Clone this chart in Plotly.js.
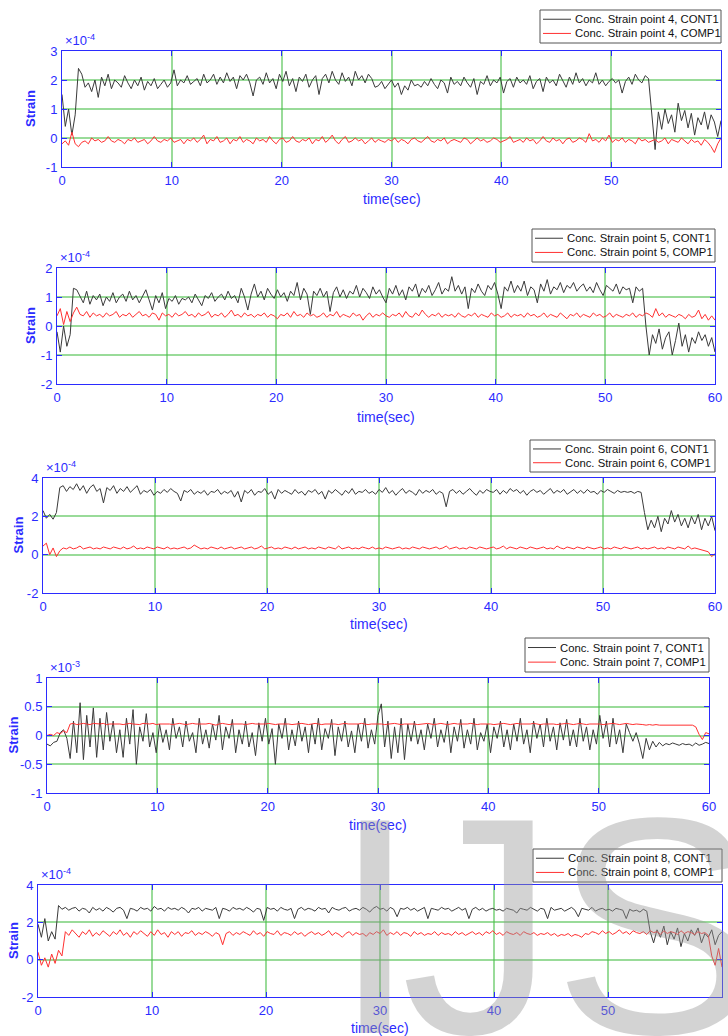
<!DOCTYPE html>
<html>
<head>
<meta charset="utf-8">
<script src="https://cdn.plot.ly/plotly-3.0.1.min.js"></script>
<style>
html,body{margin:0;padding:0;background:#fff;}
#chart{width:728px;height:1036px;}
</style>
</head>
<body>
<div id="chart"></div>
<script>
// ---------------- DATA (strain values; sampled every 0.3 s from 0 to 60 s) ----------------
const DT = 0.3;

// point 4 (x1e-4)
const cont4 = [
 1.5, 0.4, 1.0, 0.1, 0.8, 2.4, 2.2, 1.75, 1.9, 1.6, 2.0, 1.4, 2.1, 1.8, 2.2, 1.7, 2.0, 1.9, 1.75, 2.15,
 1.9, 1.7, 2.0, 1.8, 2.1, 1.65, 1.95, 1.8, 2.05, 1.7, 1.85, 2.0, 1.75, 1.9, 2.35, 1.8, 2.0, 1.9, 2.15, 1.85,
 1.95, 2.05, 1.8, 2.2, 1.9, 2.0, 2.2, 1.85, 2.1, 1.9, 2.25, 1.95, 2.1, 1.7, 2.15, 2.0, 2.2, 1.9, 1.45, 2.0,
 2.1, 1.85, 2.25, 1.9, 2.05, 1.7, 2.2, 1.95, 2.3, 1.8, 2.05, 1.6, 2.1, 1.95, 2.2, 1.75, 2.0, 2.15, 1.5, 2.05,
 2.2, 1.9, 2.3, 2.0, 1.85, 2.25, 1.95, 2.1, 1.8, 2.3, 2.0, 2.15, 1.9, 2.2, 2.05, 1.75, 1.8, 1.95, 1.7, 1.85,
 2.0, 1.75, 1.9, 1.5, 1.8, 1.65, 2.0, 1.8, 1.85, 1.75, 1.95, 1.8, 2.05, 1.85, 1.7, 2.0, 1.9, 1.55, 2.1, 1.85,
 1.95, 1.8, 2.1, 1.9, 1.75, 2.05, 1.5, 1.95, 1.85, 2.15, 1.8, 2.0, 1.9, 2.1, 1.55, 1.95, 2.05, 1.75, 2.1, 1.9,
 2.0, 1.85, 2.15, 1.7, 1.95, 2.05, 1.6, 2.1, 1.9, 2.0, 1.8, 2.2, 1.95, 1.75, 2.1, 1.85, 2.25, 1.9, 2.05, 1.8,
 2.0, 1.9, 2.25, 1.85, 2.0, 1.8, 1.95, 2.05, 1.9, 2.0, 1.55, 1.95, 2.1, 1.85, 2.2, 2.0, 1.9, 2.15, 2.05, 0.7,
 -0.4, 0.9, 0.3, 1.0, 0.5, 0.8, 0.2, 1.2, 0.6, 0.95, 0.35, 0.85, 0.1, 0.7, 0.45, 0.9, 0.3, 0.8, 0.55, 0.05,
 0.6
];
const comp4 = [
 -0.2, -0.1, -0.25, 0.2, -0.2, -0.3, -0.15, -0.1, -0.2, 0.0, -0.1, -0.05, -0.15, -0.1, 0.05, -0.1, -0.15, -0.05, -0.1, -0.2,
 -0.05, -0.1, 0.0, -0.15, -0.1, -0.05, -0.2, -0.1, 0.05, -0.1, -0.15, -0.05, -0.1, 0.0, -0.15, -0.1, -0.05, -0.2, -0.05, -0.1,
 0.0, -0.15, -0.05, 0.1, -0.2, -0.05, -0.1, 0.05, -0.15, -0.1, 0.0, -0.2, -0.05, -0.1, 0.05, -0.15, -0.05, -0.1, -0.2, 0.0,
 -0.1, -0.05, -0.15, 0.05, -0.1, -0.2, -0.05, 0.0, -0.15, -0.1, 0.05, -0.1, -0.15, -0.05, -0.1, 0.0, -0.2, -0.05, -0.1, 0.05,
 -0.15, -0.05, 0.1, -0.1, -0.2, -0.05, 0.05, -0.15, -0.1, 0.0, -0.1, -0.05, -0.2, -0.1, 0.0, -0.15, -0.05, -0.1, -0.15, -0.05,
 -0.1, 0.0, -0.15, -0.05, -0.1, -0.2, -0.05, 0.0, -0.1, -0.15, -0.05, 0.05, -0.1, -0.15, -0.05, -0.1, 0.0, -0.2, -0.1, -0.05,
 -0.1, -0.15, 0.0, -0.05, -0.2, -0.1, 0.0, -0.1, -0.05, -0.15, -0.1, 0.0, -0.05, -0.15, -0.1, -0.05, 0.05, -0.15, -0.1, -0.05,
 -0.15, 0.0, -0.1, -0.05, -0.2, -0.1, 0.05, -0.1, -0.15, 0.0, -0.1, -0.05, -0.2, -0.05, 0.0, -0.15, -0.1, 0.0, -0.05, -0.15,
 0.15, -0.1, -0.05, -0.15, 0.0, -0.1, 0.1, -0.15, -0.05, -0.1, 0.0, -0.15, -0.05, -0.1, -0.2, 0.0, -0.1, -0.05, -0.15, -0.1,
 -0.05, -0.15, -0.1, 0.0, -0.2, -0.05, -0.1, -0.15, 0.0, -0.1, -0.2, -0.05, -0.15, -0.1, -0.25, -0.05, -0.15, -0.3, -0.5, -0.2,
 0.0
];

// point 5 (x1e-4)
const cont5 = [
 -0.2, -0.9, 0.0, -0.7, -0.3, 1.3, 1.25, 1.0, 0.8, 1.2, 0.75, 1.05, 0.9, 1.1, 0.7, 1.0, 0.85, 1.15, 0.8, 1.0,
 1.1, 0.85, 1.2, 0.9, 1.05, 0.8, 1.0, 1.25, 0.9, 0.55, 1.05, 0.8, 1.15, 0.6, 0.95, 0.85, 1.05, 0.75, 0.95, 0.9,
 1.0, 0.8, 1.1, 0.9, 0.7, 1.05, 0.95, 1.15, 0.85, 1.0, 1.1, 0.9, 1.2, 0.95, 1.05, 0.8, 1.3, 1.0, 0.55, 1.1,
 1.45, 1.0, 1.2, 0.9, 1.3, 1.1, 0.95, 1.25, 1.0, 1.15, 0.85, 1.2, 1.05, 1.5, 0.9, 1.3, 1.1, 0.4, 1.2, 1.05,
 1.3, 1.0, 1.2, 0.5, 1.15, 1.35, 1.0, 1.25, 0.95, 1.2, 1.1, 1.4, 1.0, 1.3, 1.15, 0.95, 1.35, 1.1, 1.25, 1.0,
 0.8, 1.3, 1.1, 1.4, 1.05, 1.25, 0.9, 1.35, 1.2, 1.45, 1.0, 1.3, 1.15, 1.4, 1.05, 1.25, 1.5, 1.1, 1.3, 1.2,
 1.7, 1.2, 1.4, 1.1, 1.35, 0.6, 1.3, 1.15, 1.45, 1.2, 1.05, 1.4, 1.25, 1.5, 1.1, 0.6, 1.35, 1.2, 1.55, 1.15,
 1.4, 1.2, 1.55, 1.05, 1.35, 1.25, 0.8, 1.45, 1.2, 1.6, 1.1, 1.35, 1.25, 1.5, 1.15, 1.4, 1.3, 1.5, 1.2, 1.35,
 1.45, 1.2, 1.35, 1.15, 1.5, 1.25, 1.05, 1.4, 1.3, 1.2, 1.45, 1.1, 1.35, 1.25, 1.3, 0.8, 1.35, 1.2, 1.3, 0.0,
 -1.0, -0.3, -0.6, -0.1, -0.8, -0.4, -0.2, -1.0, -0.5, 0.1, -0.7, -0.3, -0.9, -0.4, -0.6, -0.2, -0.5, -0.3, -0.7, -0.4,
 -0.9
];
const comp5 = [
 0.35, 0.6, 0.05, 0.5, 0.15, 0.45, 0.65, 0.4, 0.35, 0.5, 0.3, 0.45, 0.35, 0.4, 0.3, 0.45, 0.35, 0.4, 0.5, 0.3,
 0.4, 0.35, 0.45, 0.3, 0.4, 0.5, 0.35, 0.4, 0.3, 0.45, 0.4, 0.2, 0.45, 0.35, 0.4, 0.3, 0.45, 0.35, 0.4, 0.5,
 0.35, 0.4, 0.3, 0.45, 0.35, 0.4, 0.5, 0.3, 0.4, 0.35, 0.45, 0.3, 0.4, 0.55, 0.35, 0.4, 0.3, 0.45, 0.35, 0.4,
 0.3, 0.4, 0.35, 0.45, 0.3, 0.4, 0.35, 0.25, 0.4, 0.35, 0.45, 0.3, 0.5, 0.35, 0.4, 0.3, 0.45, 0.35, 0.4, 0.3,
 0.35, 0.45, 0.3, 0.4, 0.35, 0.5, 0.3, 0.4, 0.35, 0.3, 0.45, 0.35, 0.4, 0.2, 0.35, 0.45, 0.3, 0.4, 0.35, 0.45,
 0.35, 0.3, 0.4, 0.35, 0.45, 0.3, 0.5, 0.35, 0.3, 0.45, 0.35, 0.55, 0.4, 0.3, 0.4, 0.35, 0.45, 0.3, 0.4, 0.35,
 0.4, 0.3, 0.45, 0.35, 0.3, 0.4, 0.35, 0.45, 0.3, 0.4, 0.35, 0.3, 0.45, 0.35, 0.4, 0.3, 0.35, 0.45, 0.3, 0.4,
 0.35, 0.4, 0.3, 0.45, 0.35, 0.4, 0.3, 0.35, 0.45, 0.3, 0.4, 0.35, 0.3, 0.45, 0.35, 0.25, 0.4, 0.35, 0.45, 0.3,
 0.4, 0.35, 0.3, 0.45, 0.35, 0.4, 0.3, 0.35, 0.45, 0.3, 0.4, 0.35, 0.3, 0.4, 0.35, 0.45, 0.3, 0.4, 0.35, 0.45,
 0.4, 0.3, 0.6, 0.35, 0.45, 0.3, 0.4, 0.35, 0.3, 0.4, 0.35, 0.25, 0.4, 0.3, 0.35, 0.55, 0.25, 0.4, 0.2, 0.35,
 0.2
];

// point 6 (x1e-4)
const cont6 = [
 2.3, 1.9, 2.1, 1.85, 2.2, 3.5, 3.6, 3.3, 3.55, 3.4, 3.7, 3.35, 3.6, 3.2, 3.5, 3.65, 3.3, 3.45, 2.7, 3.5,
 3.35, 3.6, 3.2, 3.45, 3.3, 3.55, 3.25, 3.4, 3.6, 3.15, 3.35, 3.25, 3.4, 3.1, 3.3, 3.2, 3.4, 3.25, 3.45, 3.3,
 3.2, 2.8, 3.35, 3.25, 3.4, 3.15, 3.3, 3.2, 3.35, 3.1, 3.3, 3.25, 3.4, 3.15, 3.3, 3.2, 3.35, 3.0, 3.3, 2.75,
 3.35, 3.2, 3.4, 3.1, 3.3, 3.25, 3.45, 3.15, 3.3, 2.9, 3.4, 3.2, 3.35, 3.25, 3.15, 3.4, 3.2, 3.3, 3.1, 3.35,
 3.25, 3.4, 3.15, 3.3, 2.9, 3.35, 3.2, 3.4, 3.25, 3.1, 3.35, 3.2, 3.45, 3.15, 3.3, 3.25, 3.4, 3.2, 3.3, 3.15,
 3.4, 3.25, 3.5, 3.2, 3.35, 3.1, 3.3, 3.45, 3.2, 3.35, 3.25, 3.1, 3.4, 3.2, 3.35, 3.25, 3.4, 3.15, 3.3, 3.2,
 2.5, 3.3, 3.4, 3.2, 3.35, 3.15, 3.3, 3.45, 3.25, 3.1, 3.35, 3.2, 3.4, 3.3, 3.25, 3.4, 3.15, 3.35, 3.2, 3.45,
 3.3, 3.4, 3.2, 3.35, 3.1, 3.3, 3.4, 3.25, 3.35, 3.15, 3.3, 3.45, 3.2, 3.35, 3.25, 3.4, 3.15, 3.3, 3.4, 3.2,
 3.35, 3.2, 3.4, 3.25, 3.3, 3.15, 3.35, 3.25, 3.4, 3.3, 3.2, 3.35, 3.25, 3.3, 3.25, 3.3, 3.2, 3.3, 3.25, 2.2,
 1.3, 1.8, 1.4, 2.0, 1.2, 1.9, 1.6, 2.3, 1.7, 2.1, 1.5, 1.9, 1.4, 2.0, 1.6, 2.1, 1.3, 1.9, 1.5, 2.0,
 1.25
];
const comp6 = [
 0.45, 0.6, 0.0, 0.35, -0.1, 0.2, 0.35, 0.3, 0.4, 0.3, 0.35, 0.45, 0.3, 0.35, 0.4, 0.3, 0.35, 0.3, 0.4, 0.35,
 0.3, 0.4, 0.35, 0.3, 0.4, 0.3, 0.35, 0.45, 0.3, 0.35, 0.3, 0.4, 0.35, 0.3, 0.4, 0.35, 0.3, 0.4, 0.3, 0.35,
 0.3, 0.35, 0.4, 0.3, 0.35, 0.5, 0.4, 0.3, 0.35, 0.3, 0.4, 0.35, 0.3, 0.4, 0.3, 0.35, 0.4, 0.3, 0.35, 0.4,
 0.3, 0.35, 0.4, 0.3, 0.35, 0.45, 0.3, 0.35, 0.4, 0.3, 0.35, 0.3, 0.4, 0.35, 0.3, 0.4, 0.3, 0.35, 0.4, 0.3,
 0.35, 0.3, 0.4, 0.35, 0.3, 0.4, 0.35, 0.3, 0.45, 0.3, 0.35, 0.4, 0.3, 0.35, 0.3, 0.4, 0.35, 0.3, 0.4, 0.3,
 0.35, 0.3, 0.4, 0.35, 0.3, 0.35, 0.4, 0.3, 0.35, 0.3, 0.4, 0.35, 0.3, 0.4, 0.35, 0.3, 0.35, 0.4, 0.3, 0.35,
 0.45, 0.3, 0.35, 0.4, 0.3, 0.35, 0.3, 0.4, 0.35, 0.3, 0.4, 0.35, 0.3, 0.35, 0.4, 0.3, 0.35, 0.45, 0.3, 0.4,
 0.35, 0.3, 0.4, 0.35, 0.3, 0.4, 0.35, 0.3, 0.35, 0.4, 0.3, 0.35, 0.3, 0.45, 0.35, 0.3, 0.4, 0.35, 0.3, 0.4,
 0.35, 0.3, 0.4, 0.35, 0.3, 0.35, 0.4, 0.3, 0.35, 0.3, 0.4, 0.35, 0.3, 0.4, 0.35, 0.3, 0.35, 0.4, 0.3, 0.35,
 0.3, 0.35, 0.4, 0.3, 0.35, 0.3, 0.4, 0.35, 0.3, 0.4, 0.35, 0.3, 0.45, 0.3, 0.35, 0.3, 0.25, 0.2, 0.15, -0.1,
 0.05
];

// point 7 (x1e-3)
const cont7 = [
 -0.15, -0.18, -0.12, -0.1, 0.05, 0.1, -0.05, -0.4, 0.25, -0.3, 0.57, -0.42, 0.35, -0.2, 0.48, -0.38, 0.3, -0.25, 0.4, -0.1,
 0.25, -0.3, 0.1, -0.38, 0.3, -0.15, 0.45, -0.5, 0.15, -0.1, 0.38, -0.2, 0.05, -0.3, 0.2, -0.12, 0.1, -0.25, 0.3, -0.05,
 0.15, -0.2, 0.25, -0.1, 0.05, -0.3, 0.3, -0.15, 0.1, -0.22, 0.2, -0.08, 0.35, -0.25, 0.15, -0.05, 0.28, -0.3, 0.1, -0.15,
 0.25, -0.2, 0.05, -0.35, 0.22, -0.1, 0.3, -0.15, 0.12, -0.5, 0.2, -0.05, 0.3, -0.25, 0.1, -0.18, 0.25, -0.1, 0.15, -0.3,
 0.2, -0.15, 0.3, -0.25, 0.12, -0.05, 0.28, -0.35, 0.15, -0.1, 0.25, -0.2, 0.08, -0.3, 0.2, -0.1, 0.3, -0.22, 0.1, -0.15,
 0.35, 0.55, -0.2, 0.25, -0.4, 0.15, -0.3, 0.3, -0.42, 0.2, -0.1, 0.25, -0.15, 0.1, -0.25, 0.2, -0.05, 0.3, -0.2, 0.1,
 -0.12, 0.25, -0.3, 0.15, -0.1, 0.28, -0.22, 0.1, -0.15, 0.3, -0.25, 0.05, -0.1, 0.2, -0.3, 0.15, -0.05, 0.25, -0.2, 0.1,
 -0.25, 0.2, -0.1, 0.3, -0.15, 0.1, -0.3, 0.25, -0.05, 0.2, -0.2, 0.3, -0.1, 0.15, -0.25, 0.22, -0.08, 0.28, -0.18, 0.1,
 -0.2, 0.3, -0.1, 0.15, -0.25, 0.1, -0.15, 0.35, -0.05, 0.25, -0.2, 0.3, -0.15, 0.1, -0.3, 0.2, 0.05, -0.1, 0.05, -0.15,
 -0.4, -0.05, -0.25, -0.1, -0.2, -0.12, -0.18, -0.14, -0.16, -0.13, -0.15, -0.17, -0.14, -0.16, -0.15, -0.18, -0.13, -0.17, -0.15, -0.12,
 -0.14
];
const comp7 = [
 0.0, 0.02, 0.0, 0.05, 0.03, 0.08, 0.05, 0.2, 0.21, 0.19, 0.2, 0.21, 0.2, 0.19, 0.21, 0.2, 0.2, 0.21, 0.19, 0.2,
 0.2, 0.21, 0.2, 0.19, 0.2, 0.21, 0.2, 0.2, 0.19, 0.21, 0.2, 0.2, 0.21, 0.19, 0.2, 0.2, 0.21, 0.2, 0.19, 0.2,
 0.21, 0.2, 0.19, 0.2, 0.21, 0.2, 0.2, 0.19, 0.2, 0.21, 0.2, 0.18, 0.2, 0.21, 0.2, 0.19, 0.2, 0.2, 0.21, 0.2,
 0.19, 0.2, 0.21, 0.2, 0.2, 0.19, 0.2, 0.21, 0.2, 0.19, 0.2, 0.2, 0.21, 0.2, 0.19, 0.2, 0.2, 0.21, 0.2, 0.19,
 0.2, 0.21, 0.2, 0.19, 0.2, 0.2, 0.21, 0.2, 0.19, 0.2, 0.21, 0.2, 0.2, 0.19, 0.2, 0.21, 0.2, 0.19, 0.2, 0.2,
 0.21, 0.2, 0.19, 0.2, 0.2, 0.21, 0.2, 0.19, 0.2, 0.2, 0.21, 0.2, 0.19, 0.2, 0.2, 0.21, 0.2, 0.19, 0.2, 0.21,
 0.2, 0.19, 0.2, 0.21, 0.2, 0.2, 0.19, 0.2, 0.21, 0.2, 0.19, 0.2, 0.2, 0.21, 0.2, 0.19, 0.2, 0.2, 0.21, 0.2,
 0.19, 0.2, 0.21, 0.2, 0.2, 0.19, 0.2, 0.21, 0.2, 0.19, 0.2, 0.2, 0.21, 0.2, 0.19, 0.2, 0.2, 0.21, 0.2, 0.19,
 0.2, 0.21, 0.2, 0.19, 0.2, 0.2, 0.21, 0.2, 0.19, 0.2, 0.2, 0.21, 0.2, 0.19, 0.2, 0.21, 0.2, 0.19, 0.2, 0.2,
 0.19, 0.18, 0.19, 0.18, 0.19, 0.18, 0.18, 0.19, 0.18, 0.19, 0.19, 0.18, 0.19, 0.18, 0.19, 0.18, 0.15, 0.02, -0.07, 0.05,
 0.03
];

// point 8 (x1e-4)
const cont8 = [
 1.9, 1.2, 2.2, 1.0, 1.5, 1.1, 2.9, 2.7, 2.8, 2.65, 2.75, 2.8, 2.6, 2.75, 2.7, 2.5, 2.8, 2.65, 2.75, 2.6,
 2.8, 2.7, 2.55, 2.75, 2.8, 2.65, 2.2, 2.75, 2.7, 2.6, 2.8, 2.7, 2.75, 2.6, 2.85, 2.7, 2.75, 2.6, 2.8, 2.7,
 2.75, 2.65, 2.8, 2.7, 2.5, 2.75, 2.7, 2.8, 2.6, 2.75, 2.7, 2.65, 2.8, 2.2, 2.75, 2.7, 2.6, 2.8, 2.7, 2.75,
 2.65, 2.8, 2.7, 2.55, 2.75, 2.7, 2.1, 2.8, 2.7, 2.75, 2.6, 2.8, 2.7, 2.65, 2.75, 2.2, 2.7, 2.8, 2.65, 2.75,
 2.7, 2.6, 2.8, 2.7, 2.75, 2.5, 2.8, 2.7, 2.65, 2.75, 2.8, 2.6, 2.7, 2.75, 2.65, 2.8, 2.7, 2.55, 2.75, 2.85,
 2.7, 2.75, 2.6, 2.8, 2.7, 2.3, 2.75, 2.7, 2.8, 2.65, 2.75, 2.6, 2.7, 2.8, 2.2, 2.75, 2.7, 2.65, 2.8, 2.7,
 2.75, 2.6, 2.7, 2.8, 2.65, 2.75, 2.2, 2.7, 2.8, 2.65, 2.75, 2.6, 2.7, 2.75, 2.65, 2.7, 2.6, 2.75, 2.7, 2.65,
 2.5, 2.75, 2.7, 2.65, 2.8, 2.7, 2.6, 2.75, 2.7, 2.2, 2.8, 2.65, 2.7, 2.75, 2.6, 2.7, 2.8, 2.65, 2.3, 2.75,
 2.7, 2.65, 2.8, 2.6, 2.7, 2.75, 2.65, 2.7, 2.6, 2.75, 2.7, 2.65, 2.2, 2.7, 2.6, 2.65, 2.55, 2.7, 2.6, 1.5,
 0.9, 1.6, 1.2, 1.8, 0.8, 1.5, 1.1, 1.7, 0.7, 1.4, 1.0, 1.6, 1.3, 1.7, 0.9, 1.4, 1.2, 1.6, 0.8, 1.3,
 1.5
];
const comp8 = [
 0.4, -0.3, 0.1, -0.4, 0.3, -0.2, 0.5, 0.2, 1.5, 1.3, 1.6, 1.4, 1.2, 1.5, 1.35, 1.6, 1.25, 1.45, 1.3, 1.55,
 1.4, 1.25, 1.5, 1.35, 1.6, 1.3, 1.45, 1.2, 1.5, 1.35, 1.55, 1.4, 1.25, 1.5, 1.3, 1.6, 1.35, 1.45, 1.2, 1.5,
 1.35, 1.5, 1.25, 1.45, 1.4, 1.55, 1.3, 1.45, 1.35, 1.5, 1.4, 1.25, 1.45, 1.35, 0.8, 1.4, 1.5, 1.3, 1.45, 1.35,
 1.5, 1.4, 1.3, 1.55, 1.35, 1.45, 1.25, 1.5, 1.4, 1.35, 1.55, 1.3, 1.45, 1.4, 1.3, 1.5, 1.35, 1.45, 1.25, 1.4,
 1.5, 1.35, 1.45, 1.3, 1.4, 1.55, 1.3, 1.45, 1.35, 1.2, 1.4, 1.5, 1.3, 1.45, 1.35, 1.4, 1.25, 1.45, 1.35, 1.5,
 1.4, 1.6, 1.3, 1.45, 1.35, 1.5, 1.3, 1.45, 1.4, 1.25, 1.5, 1.35, 1.45, 1.3, 1.4, 1.35, 1.5, 1.3, 1.45, 1.35,
 1.4, 1.3, 1.5, 1.35, 1.45, 1.3, 1.4, 1.5, 1.35, 1.45, 1.3, 1.5, 1.4, 1.55, 1.35, 1.45, 1.3, 1.5, 1.4, 1.35,
 1.45, 1.3, 1.5, 1.4, 1.35, 1.45, 1.3, 1.4, 1.35, 1.45, 1.3, 1.4, 1.25, 1.35, 1.3, 1.4, 1.25, 1.35, 1.3, 1.2,
 1.4, 1.35, 1.5, 1.45, 1.35, 1.55, 1.4, 1.5, 1.35, 1.45, 1.6, 1.4, 1.5, 1.35, 1.55, 1.45, 1.4, 1.5, 1.35, 1.55,
 1.45, 1.5, 1.35, 1.55, 1.4, 1.5, 1.45, 1.35, 1.55, 1.4, 1.5, 1.45, 1.35, 1.5, 1.4, 1.45, 1.3, 0.2, -0.3, 0.6,
 -0.4
];

const contNames = ['Conc. Strain point 4, CONT1','Conc. Strain point 5, CONT1','Conc. Strain point 6, CONT1','Conc. Strain point 7, CONT1','Conc. Strain point 8, CONT1'];
const compNames = ['Conc. Strain point 4, COMP1','Conc. Strain point 5, COMP1','Conc. Strain point 6, COMP1','Conc. Strain point 7, COMP1','Conc. Strain point 8, COMP1'];
const exponents = ['-4','-4','-4','-3','-4'];
const xTickVals = [0,10,20,30,40,50,60];
const xTickText = ['0','10','20','30','40','50','60'];
const yTickVals = [[-1,0,1,2,3],[-2,-1,0,1,2],[-2,0,2,4],[-1,-0.5,0,0.5,1],[-2,0,2,4]];
const yTickText = [['-1','0','1','2','3'],['-2','-1','0','1','2'],['-2','0','2','4'],['-1','-0.5','0','0.5','1'],['-2','0','2','4']];
const yRanges = [[-1,3],[-2,2],[-2,4],[-1,1],[-2,4]];
const xLabel = 'time(sec)';
const yLabel = 'Strain';
const watermark = ['I','J','S'];

// ---------------- LAYOUT (pixel geometry) ----------------
const W = 728, H = 1036;
const PX = x => x / W, PY = y => 1 - y / H;
// [left, right, top, bottom] of each plot frame, in pixels
const frames = [[62,721,51,167],[57,715,268,384],[43,715,478,593],[47,709,678,793],[38,722,885,997]];
// legend boxes: [left, top, bottom] (right edge = frame right)
const legendBoxes = [[540,10,43],[532,229,262],[530,440,472],[525,638,672],[533,849,882]];
const xLabelPos = [[392,199],[386,417],[379,624],[378,825],[380,1028]];
const yLabelX = [31,31,18,13,13];
const FONT = 'Liberation Sans, Arial, sans-serif';
const BLUE = '#2b2bff';
const GRID = 'rgba(70,190,70,0.55)';
const BLACK_LINE = '#3a3a3a', RED_LINE = '#ff3030';

const contData = [cont4, cont5, cont6, cont7, cont8];
const compData = [comp4, comp5, comp6, comp7, comp8];
const timeOf = arr => arr.map((_, i) => Math.round(i * DT * 10) / 10);

const traces = [];
const layout = {
  width: W, height: H, autosize: false,
  margin: {l:0, r:0, t:0, b:0, pad:0},
  paper_bgcolor: '#fff', plot_bgcolor: '#fff',
  showlegend: false,
  font: {family: FONT},
  annotations: [],
  shapes: []
};

for (let k = 0; k < 5; k++) {
  const s = k === 0 ? '' : String(k + 1);
  const [l, r, t, b] = frames[k];
  traces.push({
    x: timeOf(contData[k]), y: contData[k], type: 'scatter', mode: 'lines',
    name: contNames[k], xaxis: 'x' + s, yaxis: 'y' + s,
    line: {color: BLACK_LINE, width: 1}
  });
  traces.push({
    x: timeOf(compData[k]), y: compData[k], type: 'scatter', mode: 'lines',
    name: compNames[k], xaxis: 'x' + s, yaxis: 'y' + s,
    line: {color: RED_LINE, width: 1}
  });
  const common = {
    showline: true, linecolor: BLUE, linewidth: 1, mirror: 'ticks',
    ticks: 'inside', ticklen: 5, tickwidth: 1, tickcolor: BLUE,
    tickfont: {family: FONT, size: 13, color: BLUE},
    showgrid: true, gridcolor: GRID, gridwidth: 2,
    zeroline: false, fixedrange: true, automargin: false
  };
  layout['xaxis' + s] = Object.assign({}, common, {
    domain: [PX(l), PX(r)], anchor: 'y' + s, range: [0, 60],
    tickmode: 'array', tickvals: xTickVals, ticktext: xTickText, ticklabelstandoff: 1
  });
  layout['yaxis' + s] = Object.assign({}, common, {
    domain: [PY(b), PY(t)], anchor: 'x' + s, range: yRanges[k],
    tickmode: 'array', tickvals: yTickVals[k], ticktext: yTickText[k], ticklabelstandoff: 1
  });

  // legend box (drawn as shapes + text)
  const [lx, ly0, ly1] = legendBoxes[k];
  layout.shapes.push({
    type: 'rect', xref: 'paper', yref: 'paper', layer: 'above',
    x0: PX(lx), x1: PX(r), y0: PY(ly1), y1: PY(ly0),
    line: {color: '#555', width: 1}, fillcolor: '#fff'
  });
  const rowsY = [ly0 + (ly1 - ly0) * 0.28, ly0 + (ly1 - ly0) * 0.71];
  [[contNames[k], BLACK_LINE], [compNames[k], RED_LINE]].forEach(([nm, col], j) => {
    layout.shapes.push({
      type: 'line', xref: 'paper', yref: 'paper', layer: 'above',
      x0: PX(lx + 3), x1: PX(lx + 31), y0: PY(rowsY[j]), y1: PY(rowsY[j]),
      line: {color: col, width: 1}
    });
    layout.annotations.push({
      xref: 'paper', yref: 'paper', x: PX(lx + 33), y: PY(rowsY[j]),
      xanchor: 'left', yanchor: 'middle', showarrow: false, text: nm,
      font: {family: FONT, size: 11.3, color: '#111'}
    });
  });

  layout.annotations.push({
    xref: 'paper', yref: 'paper', x: PX(l + 1), y: PY(t - 1),
    xanchor: 'left', yanchor: 'bottom', showarrow: false,
    text: '×10<sup>' + exponents[k] + '</sup>',
    font: {family: FONT, size: 13, color: BLUE}
  });
  layout.annotations.push({
    xref: 'paper', yref: 'paper', x: PX(xLabelPos[k][0]), y: PY(xLabelPos[k][1]),
    xanchor: 'center', yanchor: 'middle', showarrow: false,
    text: xLabel, font: {family: FONT, size: 14, color: BLUE}
  });
  layout.annotations.push({
    xref: 'paper', yref: 'paper', x: PX(yLabelX[k]), y: PY((t + b) / 2),
    xanchor: 'center', yanchor: 'middle', showarrow: false, textangle: -90,
    text: '<b>' + yLabel + '</b>', font: {family: FONT, size: 13, color: BLUE}
  });
}

// watermark letters
const wmX = [375, 478, 656];
watermark.forEach((ch, i) => {
  layout.annotations.push({
    xref: 'paper', yref: 'paper', x: PX(wmX[i]), y: PY(751),
    xanchor: 'center', yanchor: 'top', showarrow: false, text: ch,
    font: {family: FONT, size: 309, color: 'rgba(150,150,150,0.42)'}
  });
});

Plotly.newPlot('chart', traces, layout, {staticPlot: true, displayModeBar: false});
</script>
</body>
</html>
